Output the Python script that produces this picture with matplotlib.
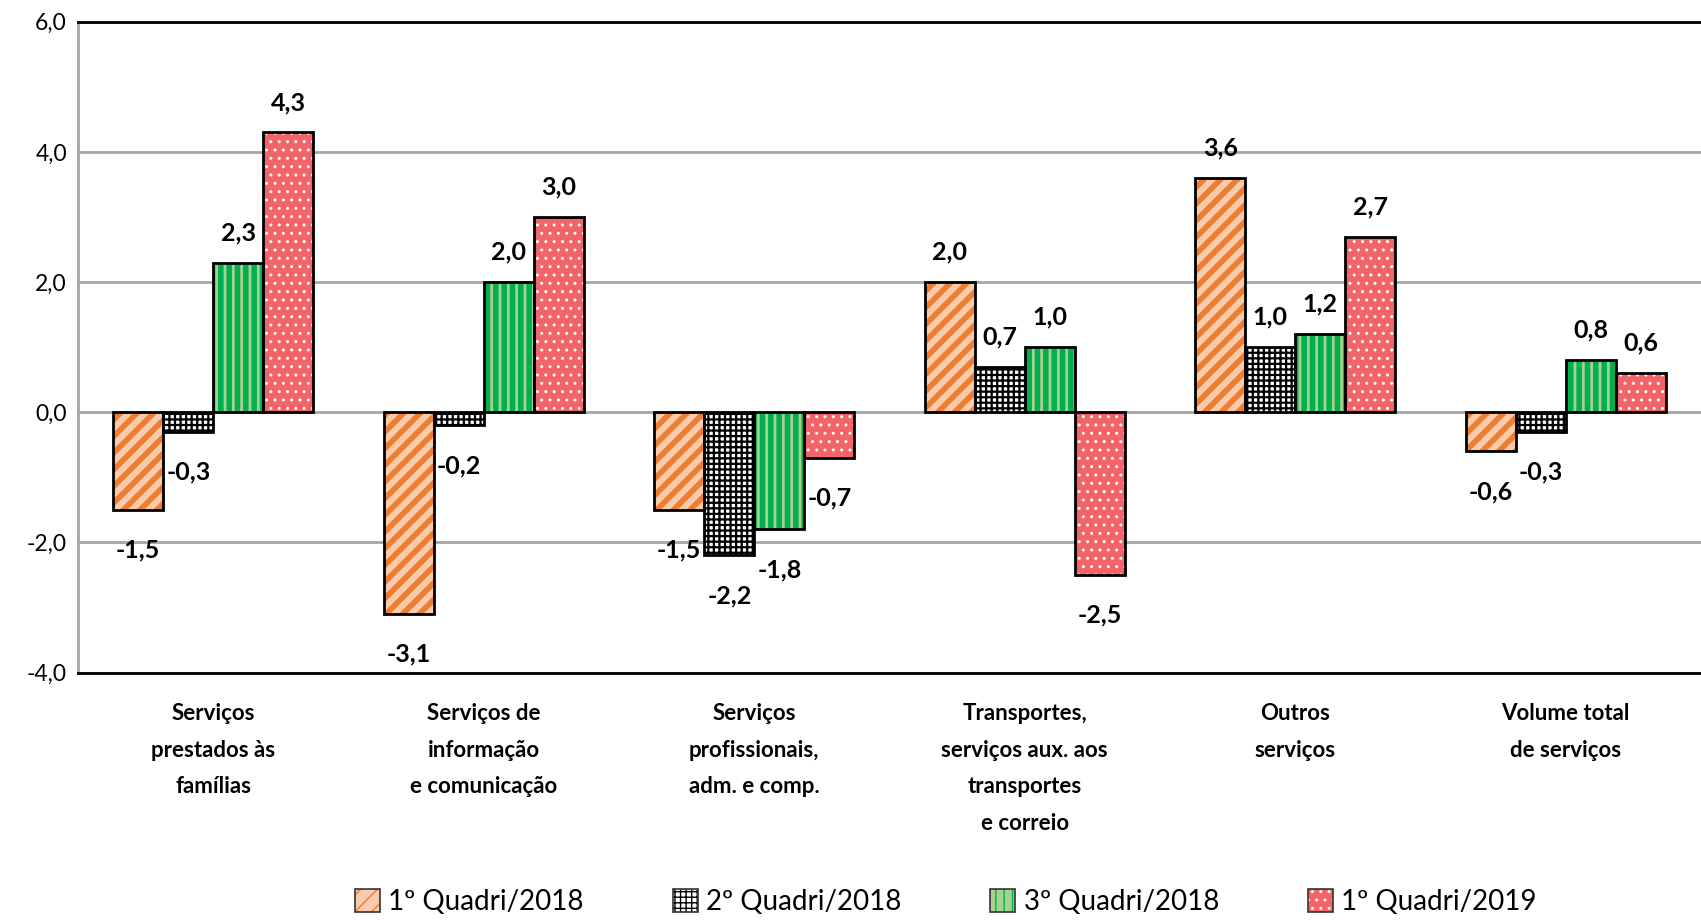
import matplotlib
matplotlib.use("Agg")
import matplotlib.pyplot as plt
import numpy as np
from matplotlib.patches import Patch
from matplotlib.legend_handler import HandlerTuple

plt.rcParams['font.family'] = ['Lato', 'DejaVu Sans']

categories = ["Serviços\nprestados às\nfamílias",
              "Serviços de\ninformação\ne comunicação",
              "Serviços\nprofissionais,\nadm. e comp.",
              "Transportes,\nserviços aux. aos\ntransportes\ne correio",
              "Outros\nserviços",
              "Volume total\nde serviços"]
series_names = ["1º Quadri/2018", "2º Quadri/2018", "3º Quadri/2018", "1º Quadri/2019"]
q1_2018 = [-1.5, -3.1, -1.5, 2.0, 3.6, -0.6]
q2_2018 = [-0.3, -0.2, -2.2, 0.7, 1.0, -0.3]
q3_2018 = [2.3, 2.0, -1.8, 1.0, 1.2, 0.8]
q1_2019 = [4.3, 3.0, -0.7, -2.5, 2.7, 0.6]
yticks = [-4, -2, 0, 2, 4, 6]

series = [q1_2018, q2_2018, q3_2018, q1_2019]
styles = [
    dict(face='#F8CBAD', hatchc='#ED7D31', hatch='//', hlw=4.0),
    dict(face='#FFFFFF', hatchc='#000000', hatch='+++', hlw=1.6),
    dict(face='#A9D18E', hatchc='#00B050', hatch='||', hlw=4.0),
    dict(face='#F26467', hatchc='#FFFFFF', hatch='..', hlw=1.0),
]

fig = plt.figure(figsize=(17.01, 9.21), dpi=100)
ax = fig.add_axes([0.0459, 0.2697, 0.9541, 0.7067])

x = np.arange(len(categories))
w = 0.185
handles = []
for i, (vals, st) in enumerate(zip(series, styles)):
    pos = x + (i - 1.5) * w
    plt.rcParams['hatch.linewidth'] = st['hlw']
    b = ax.bar(pos, vals, w, color=st['face'], edgecolor=st['hatchc'],
               hatch=st['hatch'], linewidth=0, zorder=2)
    for p in b.patches:
        if hasattr(p, 'set_hatch_linewidth'):
            p.set_hatch_linewidth(st['hlw'])
    ax.bar(pos, vals, w, fill=False, edgecolor='black', linewidth=2, zorder=3)
    for xp, v in zip(pos, vals):
        off = 21.5 if v >= 0 else -29
        ax.annotate(f"{v:.1f}".replace('.', ','), (xp, v), xytext=(0, off),
                    textcoords='offset points', ha='center', va='center',
                    fontsize=18, fontweight='bold', zorder=4)
    hp = Patch(facecolor=st['face'], edgecolor=st['hatchc'], hatch=st['hatch'], linewidth=0)
    if hasattr(hp, 'set_hatch_linewidth'):
        hp.set_hatch_linewidth(min(st['hlw'], 2.0))
    hb = Patch(fill=False, edgecolor='#333333', linewidth=1.2)
    handles.append((hp, hb))

ax.set_ylim(-4, 6)
ax.set_xlim(-0.5, len(categories) - 0.5)
ax.set_yticks(yticks)
ax.set_yticklabels([f"{t:.1f}".replace('.', ',') for t in yticks], fontsize=16.5)
ax.yaxis.grid(True, color='#A6A6A6', linewidth=2, zorder=0)
ax.set_axisbelow(True)
ax.tick_params(axis='y', length=0, pad=8)
ax.tick_params(axis='x', length=0, pad=22)
ax.set_xticks(x)
ax.set_xticklabels(categories, fontsize=16, fontweight='bold', linespacing=1.92, va='top')
ax.spines['right'].set_visible(False)
ax.spines['left'].set_color('#A6A6A6')
ax.spines['left'].set_linewidth(2)
ax.spines['top'].set_color('black')
ax.spines['top'].set_linewidth(2)
ax.spines['bottom'].set_color('black')
ax.spines['bottom'].set_linewidth(2)

leg = fig.legend(handles, series_names, handler_map={tuple: HandlerTuple(ndivide=1)},
                 loc='center', bbox_to_anchor=(0.556, 0.021), ncol=4, frameon=False,
                 fontsize=20, handlelength=0.9, handleheight=0.9, handletextpad=0.3,
                 columnspacing=3.2)

fig.savefig("out.png", dpi=100)
